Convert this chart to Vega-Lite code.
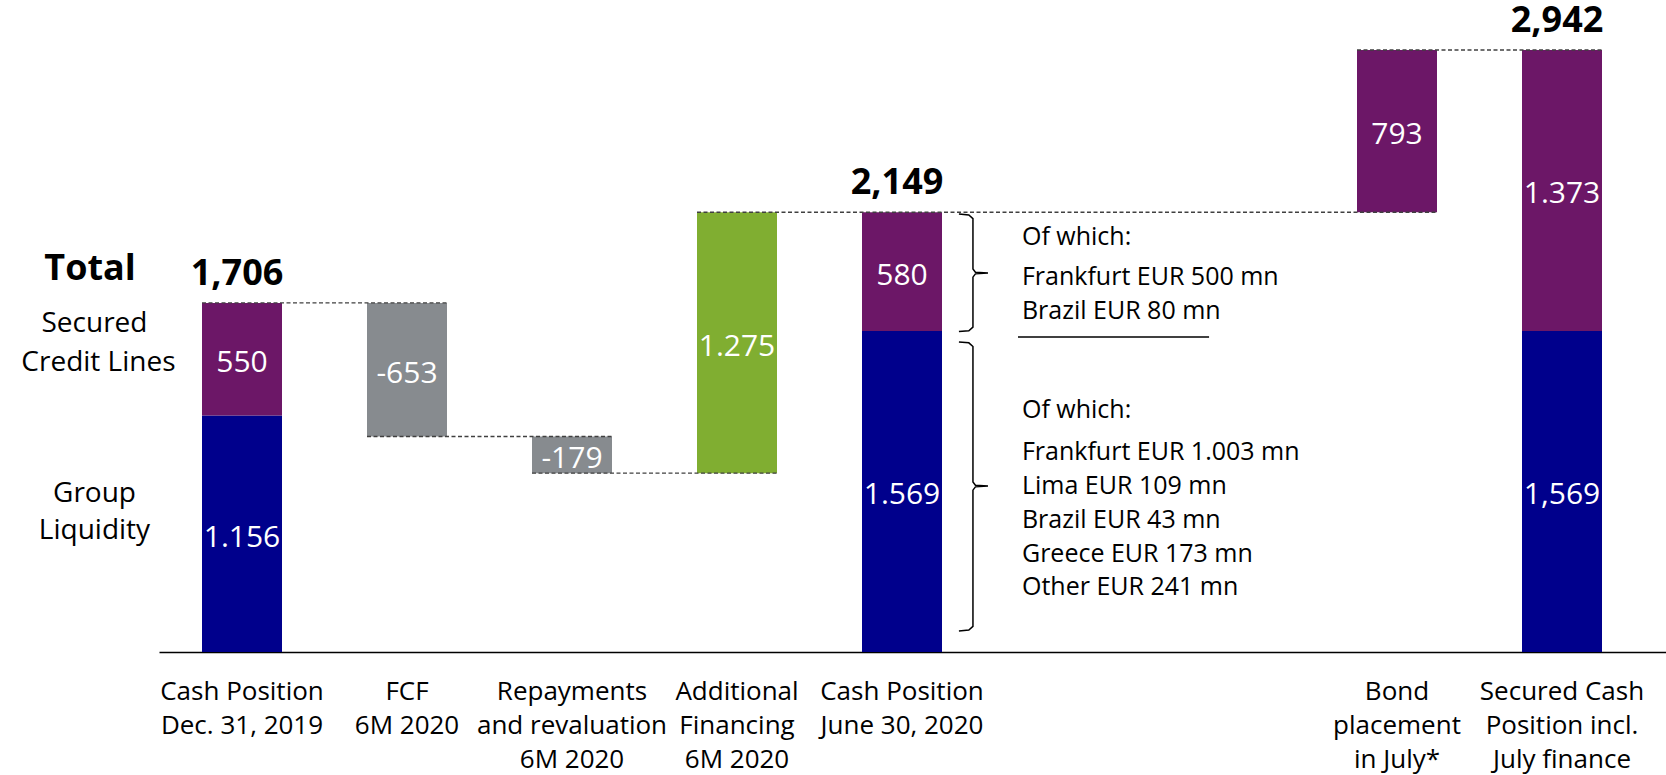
{
  "$schema": "https://vega.github.io/schema/vega-lite/v6.json",
  "width": 1507,
  "height": 652,
  "autosize": "none",
  "padding": {"left": 159, "top": 0, "right": 0, "bottom": 123},
  "background": "white",
  "config": {"view": {"stroke": null}, "font": "Open Sans"},
  "datasets": {
    "bars": [
      {"cat": "Cash Position|Dec. 31, 2019", "part": "Group Liquidity", "lo": 0, "hi": 1156, "label": "1.156"},
      {"cat": "Cash Position|Dec. 31, 2019", "part": "Secured Credit Lines", "lo": 1156, "hi": 1706, "label": "550"},
      {"cat": "FCF|6M 2020", "part": "Decrease", "lo": 1053, "hi": 1706, "label": "-653"},
      {"cat": "Repayments|and revaluation|6M 2020", "part": "Decrease", "lo": 874, "hi": 1053, "label": "-179"},
      {"cat": "Additional|Financing|6M 2020", "part": "Increase", "lo": 874, "hi": 2149, "label": "1.275"},
      {"cat": "Cash Position|June 30, 2020", "part": "Group Liquidity", "lo": 0, "hi": 1569, "label": "1.569"},
      {"cat": "Cash Position|June 30, 2020", "part": "Secured Credit Lines", "lo": 1569, "hi": 2149, "label": "580"},
      {"cat": "Bond|placement|in July*", "part": "Secured Credit Lines", "lo": 2149, "hi": 2942, "label": "793"},
      {"cat": "Secured Cash|Position incl.|July finance", "part": "Group Liquidity", "lo": 0, "hi": 1569, "label": "1,569"},
      {"cat": "Secured Cash|Position incl.|July finance", "part": "Secured Credit Lines", "lo": 1569, "hi": 2942, "label": "1.373"}
    ],
    "totals": [
      {"cat": "Cash Position|Dec. 31, 2019", "total": 1706, "label": "1,706"},
      {"cat": "Cash Position|June 30, 2020", "total": 2149, "label": "2,149"},
      {"cat": "Secured Cash|Position incl.|July finance", "total": 2942, "label": "2,942"}
    ],
    "links": [
      {"from": "Cash Position|Dec. 31, 2019", "to": "FCF|6M 2020", "level": 1706},
      {"from": "FCF|6M 2020", "to": "Repayments|and revaluation|6M 2020", "level": 1053},
      {"from": "Repayments|and revaluation|6M 2020", "to": "Additional|Financing|6M 2020", "level": 874},
      {"from": "Additional|Financing|6M 2020", "to": "Bond|placement|in July*", "level": 2149},
      {"from": "Bond|placement|in July*", "to": "Secured Cash|Position incl.|July finance", "level": 2942}
    ],
    "braces": [
      {"brace": "upper", "i": 0, "q": 4.345, "v": 2140},
      {"brace": "upper", "i": 1, "q": 4.405, "v": 2136},
      {"brace": "upper", "i": 2, "q": 4.43, "v": 2118},
      {"brace": "upper", "i": 3, "q": 4.43, "v": 1872},
      {"brace": "upper", "i": 4, "q": 4.445, "v": 1856},
      {"brace": "upper", "i": 5, "q": 4.521, "v": 1852},
      {"brace": "upper", "i": 6, "q": 4.445, "v": 1848},
      {"brace": "upper", "i": 7, "q": 4.43, "v": 1832},
      {"brace": "upper", "i": 8, "q": 4.43, "v": 1588},
      {"brace": "upper", "i": 9, "q": 4.405, "v": 1570},
      {"brace": "upper", "i": 10, "q": 4.345, "v": 1566},
      {"brace": "lower", "i": 0, "q": 4.345, "v": 1515},
      {"brace": "lower", "i": 1, "q": 4.405, "v": 1511},
      {"brace": "lower", "i": 2, "q": 4.43, "v": 1493},
      {"brace": "lower", "i": 3, "q": 4.43, "v": 831},
      {"brace": "lower", "i": 4, "q": 4.445, "v": 815},
      {"brace": "lower", "i": 5, "q": 4.521, "v": 811},
      {"brace": "lower", "i": 6, "q": 4.445, "v": 807},
      {"brace": "lower", "i": 7, "q": 4.43, "v": 791},
      {"brace": "lower", "i": 8, "q": 4.43, "v": 125},
      {"brace": "lower", "i": 9, "q": 4.405, "v": 107},
      {"brace": "lower", "i": 10, "q": 4.345, "v": 103}
    ],
    "notes": [
      {"q": 4.727, "v": 2028, "txt": "Of which:"},
      {"q": 4.727, "v": 1831, "txt": "Frankfurt EUR 500 mn"},
      {"q": 4.727, "v": 1665, "txt": "Brazil EUR 80 mn"},
      {"q": 4.727, "v": 1183, "txt": "Of which:"},
      {"q": 4.727, "v": 979, "txt": "Frankfurt EUR 1.003 mn"},
      {"q": 4.727, "v": 813, "txt": "Lima EUR 109 mn"},
      {"q": 4.727, "v": 647, "txt": "Brazil EUR 43 mn"},
      {"q": 4.727, "v": 481, "txt": "Greece EUR 173 mn"},
      {"q": 4.727, "v": 320, "txt": "Other EUR 241 mn"}
    ],
    "underline": [{"q0": 4.703, "q1": 5.861, "v": 1539}],
    "side": [
      {"q": -0.894, "v": 1603, "txt": "Secured"},
      {"q": -0.87, "v": 1410, "txt": "Credit Lines"},
      {"q": -0.894, "v": 772, "txt": "Group"},
      {"q": -0.894, "v": 591, "txt": "Liquidity"}
    ],
    "sideTitle": [{"q": -0.921, "v": 1873, "txt": "Total"}]
  },
  "resolve": {"scale": {"x": "independent"}},
  "layer": [
    {
      "layer": [
        {
          "data": {"name": "bars"},
          "mark": {"type": "bar"},
          "encoding": {
            "x": {
              "field": "cat", "type": "nominal", "sort": null,
              "scale": {"type": "band", "domain": ["Cash Position|Dec. 31, 2019", "FCF|6M 2020", "Repayments|and revaluation|6M 2020", "Additional|Financing|6M 2020", "Cash Position|June 30, 2020", "gap1", "gap2", "Bond|placement|in July*", "Secured Cash|Position incl.|July finance"], "paddingInner": 0.51515, "paddingOuter": 0.32424, "align": 0.4019, "round": false},
              "axis": {"title": null, "labelExpr": "indexof(datum.label, 'gap') == 0 ? '' : split(datum.label, '|')", "ticks": false, "grid": false, "domain": true, "domainColor": "#000000", "domainWidth": 1.5, "labelFont": "Open Sans", "labelFontSize": 26, "labelColor": "#000000", "labelLineHeight": 34, "labelPadding": 26, "labelLimit": 400, "labelOverlap": false, "labelAngle": 0}
            },
            "y": {"field": "lo", "type": "quantitative", "scale": {"domain": [0, 3186.4], "nice": false, "zero": true}, "axis": null},
            "y2": {"field": "hi"},
            "color": {"field": "part", "type": "nominal", "scale": {"domain": ["Group Liquidity", "Secured Credit Lines", "Decrease", "Increase"], "range": ["#00008C", "#6C1767", "#878B8F", "#80AE31"]}, "legend": null}
          }
        },
        {
          "data": {"name": "bars"},
          "transform": [{"fold": ["lo", "hi"], "as": ["k", "v"]}],
          "mark": {"type": "text", "color": "#FFFFFF", "fontSize": 30, "font": "Open Sans", "baseline": "middle", "align": "center", "dy": 4},
          "encoding": {
            "x": {"field": "cat", "type": "nominal", "title": null},
            "y": {"aggregate": "mean", "field": "v", "type": "quantitative", "title": null},
            "text": {"field": "label"}
          }
        },
        {
          "data": {"name": "links"},
          "mark": {"type": "rule", "color": "#404040", "strokeWidth": 1.4, "strokeDash": [4, 2.5]},
          "encoding": {
            "x": {"field": "from", "type": "nominal", "bandPosition": 0, "title": null},
            "x2": {"field": "to", "bandPosition": 1},
            "y": {"field": "level", "type": "quantitative", "title": null}
          }
        },
        {
          "data": {"name": "totals"},
          "mark": {"type": "text", "color": "#000000", "fontSize": 36, "fontWeight": "bold", "font": "Open Sans", "baseline": "middle", "align": "center", "dy": -29, "dx": -5},
          "encoding": {
            "x": {"field": "cat", "type": "nominal", "title": null},
            "y": {"field": "total", "type": "quantitative", "title": null},
            "text": {"field": "label"}
          }
        }
      ]
    },
    {
      "layer": [
        {
          "data": {"name": "braces"},
          "mark": {"type": "line", "color": "#000000", "strokeWidth": 1.5},
          "encoding": {
            "x": {"field": "q", "type": "quantitative", "scale": {"domain": [-0.50303, 8.6303], "nice": false, "zero": false}, "axis": null},
            "y": {"field": "v", "type": "quantitative"},
            "detail": {"field": "brace"},
            "order": {"field": "i"}
          }
        },
        {
          "data": {"name": "notes"},
          "mark": {"type": "text", "color": "#000000", "fontSize": 25, "font": "Open Sans", "align": "left", "baseline": "middle"},
          "encoding": {
            "x": {"field": "q", "type": "quantitative"},
            "y": {"field": "v", "type": "quantitative"},
            "text": {"field": "txt"}
          }
        },
        {
          "data": {"name": "underline"},
          "mark": {"type": "rule", "color": "#000000", "strokeWidth": 1.5},
          "encoding": {
            "x": {"field": "q0", "type": "quantitative"},
            "x2": {"field": "q1"},
            "y": {"field": "v", "type": "quantitative"}
          }
        },
        {
          "data": {"name": "side"},
          "mark": {"type": "text", "color": "#000000", "fontSize": 28, "font": "Open Sans", "align": "center", "baseline": "middle"},
          "encoding": {
            "x": {"field": "q", "type": "quantitative"},
            "y": {"field": "v", "type": "quantitative"},
            "text": {"field": "txt"}
          }
        },
        {
          "data": {"name": "sideTitle"},
          "mark": {"type": "text", "color": "#000000", "fontSize": 36, "fontWeight": "bold", "font": "Open Sans", "align": "center", "baseline": "middle"},
          "encoding": {
            "x": {"field": "q", "type": "quantitative"},
            "y": {"field": "v", "type": "quantitative"},
            "text": {"field": "txt"}
          }
        }
      ]
    }
  ]
}
